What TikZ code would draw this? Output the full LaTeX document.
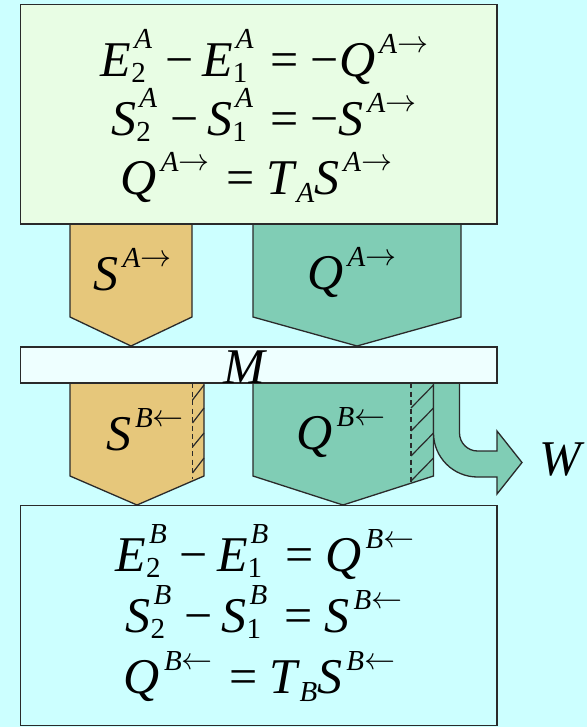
\RequirePackage{fix-cm}
\documentclass[tikz,border=0pt]{standalone}
\usepackage{fontspec}
\setmainfont{Liberation Serif}
\definecolor{bgc}{HTML}{CCFFFF}
\definecolor{topfill}{HTML}{E8FDE4}
\definecolor{tanc}{HTML}{E6C77B}
\definecolor{greenc}{HTML}{80CDB5}
\definecolor{barc}{HTML}{EEFFFF}
\definecolor{linec}{HTML}{2A2A2A}
\newcommand\bigf{\fontsize{50}{58}\selectfont}
\newcommand\scf{\fontsize{29}{29}\selectfont}
\newcommand\rar{\hbox{\fontsize{31}{31}\selectfont\raise1pt\hbox{$\rightarrow$}}}
\newcommand\lar{\hbox{\fontsize{31}{31}\selectfont\raise1pt\hbox{$\leftarrow$}}}
\newcommand\SupSub[3]{\textit{#1}\setbox0=\hbox{\kern3pt\scf #2}\setbox2=\hbox{\scf #3}%
  \ifdim\wd0>\wd2 \dimen0=\wd0 \else \dimen0=\wd2 \fi
  \hbox to\dimen0{\rlap{\raise28pt\box0}\rlap{\lower6pt\box2}\hss}}
\newcommand\SupOnly[2]{\textit{#1}\kern4pt\raise23pt\hbox{\scf #2}}
\newcommand\SubOnly[2]{\textit{#1}\kern-1pt\lower8pt\hbox{\scf #2}}
\newcommand\mns{\kern13pt−\kern9pt}
\newcommand\eqs{\kern17pt=\kern12pt}
\begin{document}
\begin{tikzpicture}[x=1pt,y=-1pt,
  edge/.style={draw=linec, line width=1.3pt, line join=miter},
  eqrow/.style={anchor=base, inner sep=0pt, font=\bigf},
  lbl/.style={anchor=base, inner sep=0pt, font=\bigf},
  hatch/.style={draw=linec, line width=1.2pt},
  dashline/.style={draw=linec, line width=1.2pt, dash pattern=on 5pt off 3.5pt}]
\useasboundingbox[fill=bgc] (0,0) rectangle (587,727);
% upper pentagons
\path[edge, fill=tanc] (70,224) -- (70,317) -- (131,346) -- (192,317) -- (192,224);
\path[edge, fill=greenc] (253,224) -- (253,317) -- (357,346) -- (461,317) -- (461,224);
% lower pentagons
\path[edge, fill=tanc] (70,383) -- (70,476) -- (137,505) -- (204,476) -- (204,383);
\path[edge, fill=greenc] (253,383) -- (253,476) -- (343,505) -- (433.5,476) -- (433.5,383);
% work arrow
\path[edge, fill=greenc] (433.5,383) -- (433.5,433)
  .. controls (433.5,457.3) and (453.2,477) .. (477.5,477)
  -- (497,477) -- (497,494) -- (522,462.5) -- (497,431) -- (497,451) -- (477.5,451)
  .. controls (467.6,451) and (459.5,442.9) .. (459.5,433) -- (459.5,383);
% dashed lines and hatching
\path[dashline] (192.5,383) -- (192.5,479);
\path[dashline] (411,383) -- (411,483);
\foreach \a/\b in {400/385,423/408,447/433,473/458}
  \path[hatch] (192.5,\a) -- (204,\b);
\foreach \a/\b in {408/385,431/408,456/433,481/458}
  \path[hatch] (411,\a) -- (433.5,\b);
% boxes
\node[edge, fill=topfill, rectangle, minimum width=476.4pt, minimum height=219.5pt, inner sep=0pt] (topbox) at (258.8,114.25) {};
\node[edge, fill=barc, rectangle, minimum width=476.4pt, minimum height=36pt, inner sep=0pt] (mbar) at (258.8,365) {};
\node[edge, fill=bgc, rectangle, minimum width=476.4pt, minimum height=219.5pt, inner sep=0pt] (botbox) at (258.8,615.5) {};
% top equations
\node[eqrow] (a1) at (264.5,77) {\SupSub{E}{\textit{A}}{2}\mns\SupSub{E}{\textit{A}}{1}\eqs−\SupOnly{Q}{\textit{A}\rar}};
\node[eqrow] (a2) at (264,136) {\SupSub{S}{\textit{A}}{2}\mns\SupSub{S}{\textit{A}}{1}\eqs−\SupOnly{S}{\textit{A}\rar}};
\node[eqrow] (a3) at (256.5,195) {\SupOnly{Q}{\textit{A}\rar}\eqs\SubOnly{T}{\textit{A}}\SupOnly{S}{\textit{A}\rar}};
% bottom equations
\node[eqrow] (b1) at (265,571) {\SupSub{E}{\textit{B}}{2}\mns\SupSub{E}{\textit{B}}{1}\eqs\SupOnly{Q}{\textit{B}\lar}};
\node[eqrow] (b2) at (264,632) {\SupSub{S}{\textit{B}}{2}\mns\SupSub{S}{\textit{B}}{1}\eqs\SupOnly{S}{\textit{B}\lar}};
\node[eqrow] (b3) at (259.5,693) {\SupOnly{Q}{\textit{B}\lar}\eqs\SubOnly{T}{\textit{B}}\SupOnly{S}{\textit{B}\lar}};
% labels
\node[lbl] (sa) at (132.5,290) {\SupOnly{S}{\textit{A}\rar}};
\node[lbl] (qa) at (352,289) {\SupOnly{Q}{\textit{A}\rar}};
\node[lbl] (sb) at (145,450) {\SupOnly{S}{\textit{B}\lar}};
\node[lbl] (qb) at (341,449) {\SupOnly{Q}{\textit{B}\lar}};
\node[lbl, font=\fontsize{50}{50}\selectfont] (m) at (245.5,383) {\textit{M}};
\node[lbl, font=\fontsize{50}{50}\selectfont] (w) at (562,475) {\textit{W}};
\end{tikzpicture}
\end{document}
